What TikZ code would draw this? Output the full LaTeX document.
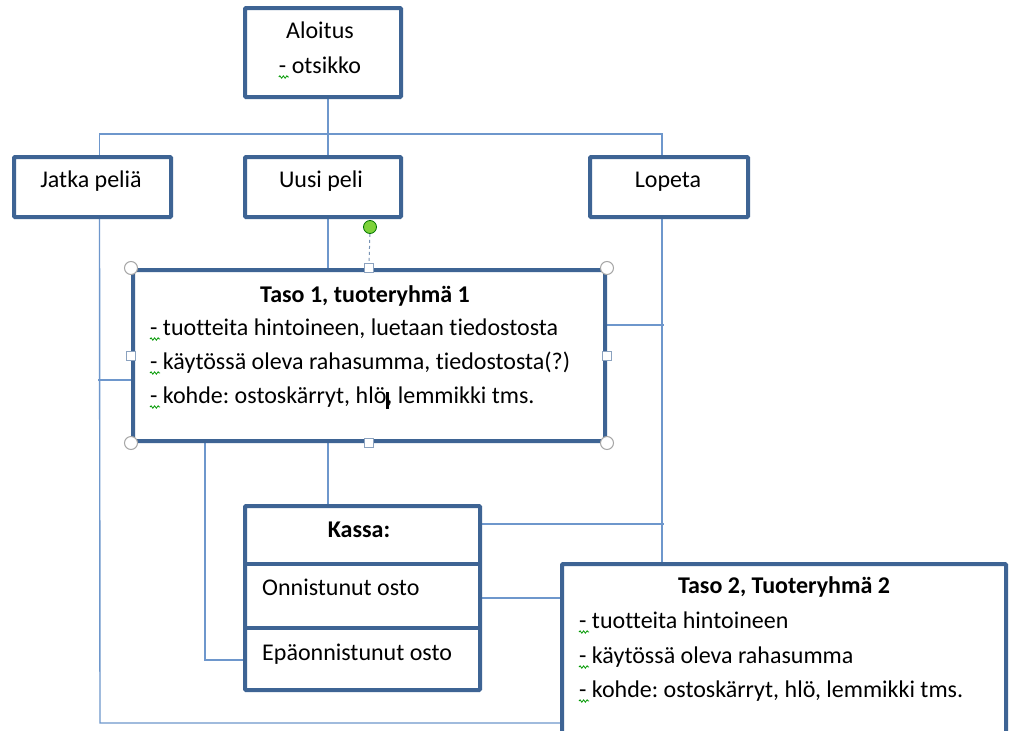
\documentclass[tikz,border=0pt]{standalone}
\usepackage{fontspec}
\setmainfont{Carlito}[Ligatures=NoCommon]
\frenchspacing
\usetikzlibrary{positioning,calc,backgrounds,decorations.pathmorphing}
\definecolor{reuna}{HTML}{3E6494}
\definecolor{viiva}{HTML}{6E97CC}
\definecolor{vihrea}{HTML}{7DD23A}
\newcommand{\kursori}{\rlap{\rule[-6pt]{2.5pt}{17pt}}}
\tikzset{
  lohko/.style={draw=reuna, line width=4pt, rounded corners=1pt, fill=white, inner sep=0pt},
  yhteys/.style={draw=viiva, line width=1.4pt},
  teksti/.style={inner sep=0pt, anchor=base, font=\fontsize{24}{28}\selectfont},
  rivi/.style={teksti, anchor=base west},
  otsikko/.style={teksti, font=\fontsize{24}{28}\selectfont\bfseries},
  kulma/.style={circle, draw=gray!70, fill=white, line width=1pt, minimum size=13pt, inner sep=0pt},
  sivu/.style={rectangle, draw=reuna!60, fill=white, line width=1pt, minimum size=9pt, inner sep=0pt},
  kierto/.style={circle, draw=green!45!black, fill=vihrea, line width=0.8pt, minimum size=13pt, inner sep=0pt},
  kiemura/.style={draw=green!60!black, line width=0.8pt, decorate, decoration={snake, amplitude=1.2pt, segment length=3.5pt}}
}

\begin{document}
\begin{tikzpicture}[x=1pt, y=-1pt]
\clip (0,0) rectangle (1010,731);
\node[lohko, minimum width=156pt, minimum height=89pt] (aloitus) at (323,52.5) {};
\node[lohko, minimum width=157pt, minimum height=60pt] (jatka) at (92.5,187) {};
\node[lohko, minimum width=156pt, minimum height=60pt] (uusi) at (323,187) {};
\node[lohko, minimum width=158pt, minimum height=60pt] (lopeta) at (669,187) {};
\node[lohko, minimum width=472pt, minimum height=171pt] (taso1) at (369,355.5) {};
\node[lohko, minimum width=235pt, minimum height=184pt] (kassa) at (362.5,598) {};
\node[lohko, minimum width=444pt, minimum height=196pt] (taso2) at (784,662) {};
\draw[reuna, line width=4pt] ([yshift=34pt]kassa.west) -- ([yshift=34pt]kassa.east)
                             ([yshift=-30pt]kassa.west) -- ([yshift=-30pt]kassa.east);

\node[teksti] (al1) at (320,38) {Aloitus};
\node[teksti] (al2) at (320,73) {- otsikko};
\node[teksti] (ja) at (91,187) {Jatka peliä};
\node[teksti] (uu) at (321,187) {Uusi peli};
\node[teksti] (lo) at (668,187) {Lopeta};
\node[otsikko] (t1a) at (365,302) {Taso 1, tuoteryhmä 1};
\node[rivi] (t1b) at (150,335) {- tuotteita hintoineen, luetaan tiedostosta};
\node[rivi] (t1c) at (150,369) {- käytössä oleva rahasumma, tiedostosta(?)};
\node[rivi] (t1d) at (150,403) {- kohde: ostoskärryt, hlö\kursori, lemmikki tms.};
\node[otsikko] (ka) at (359,537) {Kassa:};
\node[rivi] (on) at (262,595) {Onnistunut osto};
\node[rivi] (ep) at (262,660) {Epäonnistunut osto};
\node[otsikko] (t2a) at (784,593) {Taso 2, Tuoteryhmä 2};
\node[rivi] (t2b) at (579,628) {- tuotteita hintoineen};
\node[rivi] (t2c) at (579,663) {- käytössä oleva rahasumma};
\node[rivi] (t2d) at (579,697) {- kohde: ostoskärryt, hlö, lemmikki tms.};
\foreach \n in {al2,t1b,t1c,t1d,t2b,t2c,t2d}
  \draw[kiemura] ([yshift=-4pt]\n.base west) -- ++(10,0);

\foreach \a in {north west,north east,south west,south east}
  \node[kulma] (k-\a) at (taso1.\a) {};
\foreach \a in {north,south,east,west}
  \node[sivu] (s-\a) at (taso1.\a) {};
\node[kierto] (kahva) at (370,227) {};
\draw[reuna!70, line width=1pt, dashed] (kahva) -- (s-north);

\begin{scope}[on background layer]
\fill[white] (0,0) rectangle (1010,731);
\coordinate (alakulma) at (100,723);
\draw[yhteys] ([xshift=5pt]aloitus.south) -- ([xshift=5pt]uusi.north);
\draw[yhteys] ([xshift=7pt]jatka.north) -- ++(0,-21) -| ([xshift=-7pt]lopeta.north);
\draw[yhteys] ([xshift=5pt]uusi.south) -- ([xshift=5pt]uusi.south |- taso1.north);
\draw[yhteys] ([xshift=7pt]jatka.south) -- (alakulma) -- (alakulma -| taso2.west);
\draw[yhteys] ([yshift=-24.5pt]taso1.west) -- ++(-33,0);
\draw[yhteys] ([yshift=30.5pt]taso1.east) -- ++(57,0);
\draw[yhteys] ([xshift=-7pt]lopeta.south) -- ([xshift=-7pt]lopeta.south |- taso2.north);
\draw[yhteys] ([xshift=-34.5pt]kassa.north) -- ([xshift=-34.5pt]kassa.north |- taso1.south);
\draw[yhteys] ([yshift=-62pt]kassa.west) -| ([xshift=-164pt]taso1.south);
\draw[yhteys] ([yshift=74pt]kassa.east) -- ++(182,0);
\draw[yhteys] (kassa.east) -- (kassa.east -| taso2.west);
\end{scope}
\end{tikzpicture}
\end{document}
